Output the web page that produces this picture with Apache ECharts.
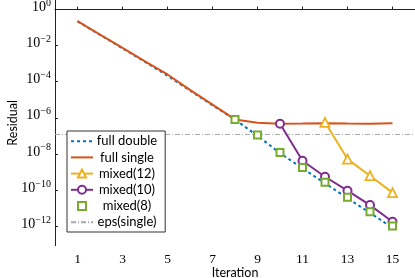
<!DOCTYPE html>
<html>
<head>
<meta charset="utf-8">
<script src="https://cdn.jsdelivr.net/npm/echarts@6/dist/echarts.min.js"></script>
<style>
html,body{margin:0;padding:0;background:#fff;}
#chart{width:415px;height:278px;}
</style>
</head>
<body>
<div id="chart"></div>
<script>
// Iterations (x) and log10(residual) values
const iterations = [1,2,3,4,5,6,7,8,9,10,11,12,13,14,15];
const fullDoubleLog = [-0.66,-1.40,-2.15,-2.90,-3.67,-4.49,-5.31,-6.10,-7.00,-7.96,-8.80,-9.63,-10.46,-11.27,-12.10];
const fullSingleLog = [-0.64,-1.39,-2.13,-2.88,-3.60,-4.45,-5.27,-6.09,-6.27,-6.33,-6.32,-6.30,-6.32,-6.33,-6.31];
const mixed12Iter = [12,13,14,15];
const mixed12Log = [-6.25,-8.29,-9.21,-10.15];
const mixed10Iter = [10,11,12,13,14,15];
const mixed10Log = [-6.33,-8.38,-9.27,-10.04,-10.84,-11.76];
const mixed8Iter = [8,9,10,11,12,13,14,15];
const mixed8Log = [-6.09,-6.96,-7.92,-8.75,-9.58,-10.41,-11.21,-12.00];
const epsSingleLog = Math.log10(Math.pow(2,-23));
const xTicks = [1,3,5,7,9,11,13,15];
const yTickExps = [0,-2,-4,-6,-8,-10,-12];

const pair = (xs, ys) => xs.map((x,i) => [x, ys[i]]);

const serifFont = '"Liberation Serif", "DejaVu Serif", serif';
const sansFont = 'Lato, "DejaVu Sans", sans-serif';
const axisColor = '#222';
const noSymbol = {opacity: 0, color: 'transparent', borderWidth: 0};

const chart = echarts.init(document.getElementById('chart'), null, {renderer:'canvas'});
chart.setOption({
  animation: false,
  backgroundColor: '#fff',
  grid: {left: 55, right: 0, top: 0, bottom: 32.3, containLabel: false, outerBoundsMode: 'none'},
  xAxis: {
    type: 'value', min: 0, max: 16,
    name: 'Iteration', nameLocation: 'middle', nameGap: 21, nameMoveOverlap: false,
    nameTextStyle: {fontFamily: sansFont, fontSize: 12.5, color: '#000', verticalAlign: 'top'},
    axisLine: {show: true, lineStyle: {color: axisColor, width: 1}},
    axisTick: {show: true, inside: true, length: 3, customValues: xTicks, lineStyle: {color: axisColor}},
    axisLabel: {customValues: xTicks, margin: 7, fontFamily: serifFont, fontSize: 13.5, color: '#000'},
    splitLine: {show: false}
  },
  yAxis: {
    type: 'value', min: -13.09, max: 0.527,
    name: 'Residual', nameLocation: 'middle', nameGap: 36, nameMoveOverlap: false,
    nameTextStyle: {fontFamily: sansFont, fontSize: 12.5, color: '#000'},
    axisLine: {show: true, lineStyle: {color: axisColor, width: 1}},
    axisTick: {show: true, inside: true, length: 3, customValues: yTickExps, lineStyle: {color: axisColor}},
    axisLabel: {
      customValues: yTickExps, margin: 4,
      formatter: v => '{b|10}{s|' + (v === 0 ? '0' : '\u2212' + (-v)) + '}',
      rich: {
        b: {fontFamily: serifFont, fontSize: 14, lineHeight: 26, padding: [0,0,4,0], verticalAlign: 'middle', color: '#000'},
        s: {fontFamily: serifFont, fontSize: 10, lineHeight: 10, padding: [2,0,0,0], verticalAlign: 'top', color: '#000'}
      }
    },
    splitLine: {show: false}
  },
  legend: {
    orient: 'vertical', left: 67, top: 131,
    padding: [3.7, 8, 3.3, 3],
    itemGap: 3.2, itemWidth: 22, itemHeight: 10,
    backgroundColor: '#fff', borderColor: '#333', borderWidth: 1, borderRadius: 0,
    formatter: name => '{t|' + name + '}',
    textStyle: {
      rich: {t: {fontFamily: sansFont, fontSize: 13, lineHeight: 14, width: 58, align: 'center', color: '#000'}}
    },
    data: [
      {name: 'full double', itemStyle: noSymbol},
      {name: 'full single', itemStyle: noSymbol},
      'mixed(12)', 'mixed(10)', 'mixed(8)',
      {name: 'eps(single)', itemStyle: noSymbol}
    ]
  },
  series: [
    {
      name: 'eps(single)', type: 'line', data: [[0, epsSingleLog],[16, epsSingleLog]],
      symbol: 'none', silent: true, z: 1,
      lineStyle: {color: '#a8a8a8', width: 1, type: [5,2,1,2]},
      itemStyle: {color: '#a8a8a8'}
    },
    {
      name: 'full double', type: 'line', data: pair(iterations, fullDoubleLog),
      symbol: 'none', z: 2,
      lineStyle: {color: '#0072BD', width: 2, type: [3,3]},
      itemStyle: {color: '#0072BD'}
    },
    {
      name: 'full single', type: 'line', data: pair(iterations, fullSingleLog),
      symbol: 'none', z: 3,
      lineStyle: {color: '#D95319', width: 2},
      itemStyle: {color: '#D95319'}
    },
    {
      name: 'mixed(12)', type: 'line', data: pair(mixed12Iter, mixed12Log),
      symbol: 'triangle', symbolSize: 9, showAllSymbol: true, z: 4,
      lineStyle: {color: '#EDB120', width: 2},
      itemStyle: {color: '#fff', borderColor: '#EDB120', borderWidth: 1.8}
    },
    {
      name: 'mixed(10)', type: 'line', data: pair(mixed10Iter, mixed10Log),
      symbol: 'circle', symbolSize: 8, showAllSymbol: true, z: 5,
      lineStyle: {color: '#7E2F8E', width: 2},
      itemStyle: {color: '#fff', borderColor: '#7E2F8E', borderWidth: 2}
    },
    {
      name: 'mixed(8)', type: 'line', data: pair(mixed8Iter, mixed8Log),
      symbol: 'rect', symbolSize: 7, showAllSymbol: true, z: 6,
      lineStyle: {width: 0, opacity: 0},
      itemStyle: {color: '#fff', borderColor: '#77AC30', borderWidth: 2}
    }
  ]
});
</script>
</body>
</html>
